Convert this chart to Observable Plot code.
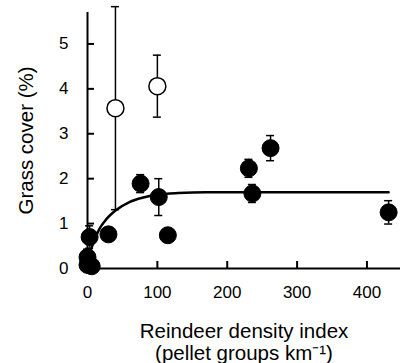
<!DOCTYPE html>
<html>
<head>
<meta charset="utf-8">
<script src="https://cdn.jsdelivr.net/npm/d3@7"></script>
<script src="https://cdn.jsdelivr.net/npm/@observablehq/plot@0.6"></script>
<style>
  html, body { margin: 0; padding: 0; background: white; }
</style>
</head>
<body>
<div id="chart"></div>
<script>
// Tick labels
const xTicks = [0, 100, 200, 300, 400];
const yTicks = [0, 1, 2, 3, 4, 5];

// Filled points (reindeer density index, grass cover %, error)
const filledX   = [0, 0, 6, 3, 30, 76, 102, 115, 231, 236, 262, 431];
const filledY   = [0.25, 0.08, 0.05, 0.70, 0.76, 1.89, 1.59, 0.74, 2.23, 1.67, 2.68, 1.25];
const filledErr = [0.18, 0, 0, 0.25, 0, 0.2, 0.41, 0, 0.2, 0.2, 0.28, 0.26];

// Open points
const openX   = [40, 100];
const openY   = [3.57, 4.06];
const openErr = [2.26, 0.69];

// Fitted curve
const curveX = [0, 2, 8, 16, 25, 40, 60, 80, 100, 130, 170, 230, 300, 431];
const curveY = [0.05, 0.25, 0.55, 0.85, 1.06, 1.29, 1.48, 1.58, 1.64, 1.68, 1.70, 1.70, 1.70, 1.70];

const filled = filledX.map((x, i) => ({x, y: filledY[i], e: filledErr[i]}));
const open = openX.map((x, i) => ({x, y: openY[i], e: openErr[i]}));
const curve = curveX.map((x, i) => ({x, y: curveY[i]}));
const bars = filled.concat(open).filter(d => d.e > 0);
const caps = bars.flatMap(d => [{x: d.x, y: d.y - d.e}, {x: d.x, y: d.y + d.e}]);

const chart = Plot.plot({
  width: 400,
  height: 363,
  marginLeft: 87,
  marginRight: 0,
  marginTop: 12,
  marginBottom: 95,
  x: {domain: [0, 448]},
  y: {domain: [0, 5.7]},
  style: {fontFamily: "'Liberation Sans', Arial, Helvetica, sans-serif", background: "white", color: "black", overflow: "visible"},
  marks: [
    Plot.axisX({ticks: xTicks, tickFormat: d => String(d), tickSize: 0, tickPadding: 17, fontSize: 17, label: null}),
    Plot.axisY({ticks: yTicks, tickFormat: d => String(d), tickSize: 0, tickPadding: 19, fontSize: 17, label: null}),
    Plot.ruleY(yTicks, {insetRight: 306, strokeWidth: 2}),
    Plot.ruleX(xTicks, {insetTop: 249, strokeWidth: 2}),
    Plot.ruleX([0], {strokeWidth: 2}),
    Plot.ruleY([0], {strokeWidth: 2}),
    Plot.line(curve, {x: "x", y: "y", curve: "monotone-x", strokeWidth: 2.5}),
    Plot.ruleX(bars, {x: "x", y1: d => d.y - d.e, y2: d => d.y + d.e, strokeWidth: 1.5}),
    Plot.ruleY(caps, {y: "y", x1: "x", x2: "x", insetLeft: -4, insetRight: -4, strokeWidth: 1.5}),
    Plot.dot(filled, {x: "x", y: "y", r: 8.5, fill: "black", stroke: "black", strokeWidth: 1}),
    Plot.dot(open, {x: "x", y: "y", r: 8.5, fill: "white", stroke: "black", strokeWidth: 1.5}),
    Plot.text(["Grass cover (%)"], {frameAnchor: "left", dx: -61, rotate: -90, fontSize: 20.5, textAnchor: "middle", lineAnchor: "middle"}),
    Plot.text(["Reindeer density index"], {frameAnchor: "bottom", dy: 63, fontSize: 20.5, lineAnchor: "middle"}),
    Plot.text(["(pellet groups km\u207B\u00B9)"], {frameAnchor: "bottom", dy: 85, fontSize: 20.5, lineAnchor: "middle"})
  ]
});
document.getElementById("chart").appendChild(chart);
</script>
</body>
</html>
